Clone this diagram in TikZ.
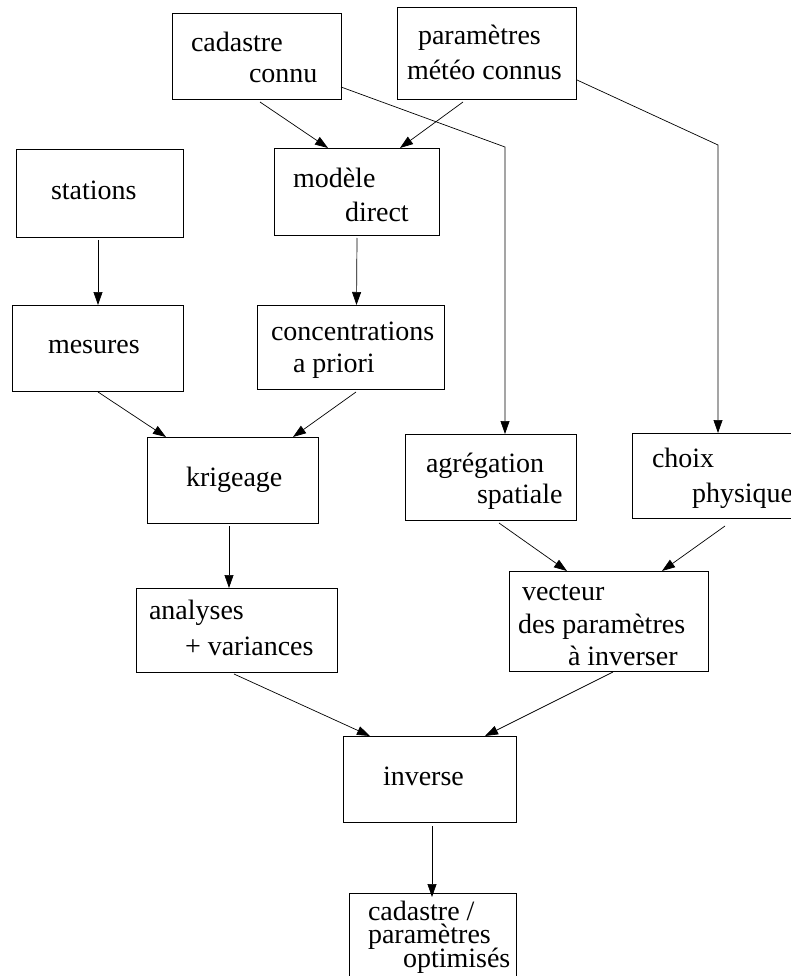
\documentclass[tikz,border=0pt]{standalone}
\usepackage{fontspec}
\setmainfont{Liberation Serif}
\usetikzlibrary{arrows.meta,calc}
\begin{document}
\begin{tikzpicture}[x=1pt,y=-1pt,
  box/.style={draw, inner sep=0pt, outer sep=0pt, anchor=north west, line width=0.8pt},
  lbl/.style={anchor=base west, inner sep=0pt, outer sep=0pt, font=\fontsize{28}{32}\selectfont},
  arr/.style={draw, line width=0.7pt, -{Triangle[length=13pt,width=9pt]}}]
\useasboundingbox (0,0) rectangle (791,976);
\clip (0,0) rectangle (791,976);
% boxes
\node[box, minimum width=169pt, minimum height=86pt] (cad) at (172,13) {};
\node[box, minimum width=179pt, minimum height=92pt] (par) at (397,7) {};
\node[box, minimum width=165pt, minimum height=87pt] (mod) at (274,148) {};
\node[box, minimum width=167pt, minimum height=88pt] (sta) at (16,149) {};
\node[box, minimum width=171pt, minimum height=86pt] (mes) at (12,305) {};
\node[box, minimum width=187pt, minimum height=84pt] (con) at (257,305) {};
\node[box, minimum width=171pt, minimum height=86pt] (kri) at (147,437) {};
\node[box, minimum width=171pt, minimum height=86pt] (agr) at (405,434) {};
\node[box, minimum width=168pt, minimum height=85pt] (cho) at (632,433) {};
\node[box, minimum width=199pt, minimum height=100pt] (vec) at (509,571) {};
\node[box, minimum width=201pt, minimum height=84pt] (ana) at (136,588) {};
\node[box, minimum width=173pt, minimum height=86pt] (inv) at (343,736) {};
\node[box, minimum width=167pt, minimum height=100pt] (opt) at (349,893) {};
% texts
\node[lbl] (t1) at (191,52) {cadastre};
\node[lbl] (t2) at (249,83) {connu};
\node[lbl] (t3) at (418,45) {paramètres};
\node[lbl] (t4) at (407,80) {météo connus};
\node[lbl] (t5) at (293,188) {modèle};
\node[lbl] (t6) at (345,222) {direct};
\node[lbl] (t7) at (51,200) {stations};
\node[lbl] (t8) at (48,353) {mesures};
\node[lbl] (t9) at (271,340) {concentrations};
\node[lbl] (t10) at (293,372) {a priori};
\node[lbl] (t11) at (186,486) {krigeage};
\node[lbl] (t12) at (426,472) {agrégation};
\node[lbl] (t13) at (477,503) {spatiale};
\node[lbl] (t14) at (652,467) {choix};
\node[lbl] (t15) at (692,502) {physique};
\node[lbl] (t16) at (522,600) {vecteur};
\node[lbl] (t17) at (518,633) {des paramètres};
\node[lbl] (t18) at (568,665) {à inverser};
\node[lbl] (t19) at (149,619) {analyses};
\node[lbl] (t20) at (185,655) {+ variances};
\node[lbl] (t21) at (383,785) {inverse};
\node[lbl] (t22) at (368,920) {cadastre /};
\node[lbl] (t23) at (368,943) {paramètres};
\node[lbl] (t24) at (403,967) {optimisés};
% bend points
\coordinate (b1) at (505,147);
\coordinate (b2) at (718,145);
% connectors
\draw[arr] ([shift={(3.5,3)}]cad.south) -- ([shift={(-28.5,0)}]mod.north);
\draw[arr] ([shift={(-23.5,3)}]par.south) -- ([shift={(43.5,0)}]mod.north);
\draw[arr] ([shift={(0,-12)}]cad.south east) -- (b1) -- (b1 |- agr.north);
\draw[arr] ([shift={(1,-19)}]par.south east) -- (b2) -- (b2 |- cho.north);
\draw[arr] ([shift={(-1.5,3)}]sta.south) -- ([shift={(0.5,0)}]mes.north);
\draw[arr] ([shift={(0.5,3)}]mod.south) -- (mod.south |- con.north);
\draw[arr] ([shift={(0.5,1)}]mes.south) -- ([shift={(-66.5,0)}]kri.north);
\draw[arr] ([shift={(5.5,3)}]con.south) -- ([shift={(60.5,0)}]kri.north);
\draw[arr] ([shift={(-3.5,3)}]kri.south) -- ([shift={(-7.5,0)}]ana.north);
\draw[arr] ([shift={(8.5,3)}]agr.south) -- ([shift={(-41.5,0)}]vec.north);
\draw[arr] ([shift={(9,8)}]cho.south) -- ([shift={(53.5,0)}]vec.north);
\draw[arr] ([shift={(-2.5,2)}]ana.south) -- ([shift={(-59.5,0)}]inv.north);
\draw[arr] ([shift={(4.5,1)}]vec.south) -- ([shift={(55.5,0)}]inv.north);
\draw[arr] ([shift={(2.5,4)}]inv.south) -- ([shift={(2.5,4)}]inv.south |- opt.north);
\end{tikzpicture}
\end{document}
